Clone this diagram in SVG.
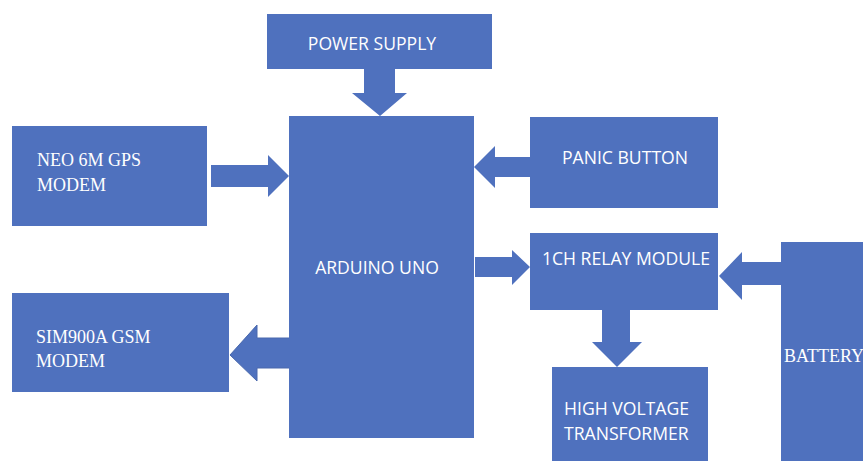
<svg xmlns="http://www.w3.org/2000/svg" width="863" height="461" viewBox="0 0 863 461">
<style>
.box{fill:#4f71be;}
.arr{fill:#4f71be;}
.s{font-family:"Open Sans","Liberation Sans",sans-serif;font-size:17.6px;fill:#ffffff;}
.r{font-family:"Liberation Serif","Times New Roman",serif;font-size:18px;fill:#ffffff;}
</style>
<rect width="863" height="461" fill="#ffffff"/>
<g id="connectors">
<polygon class="arr" points="364,69 395,69 395,93 407,93 380,116 352,93 364,93"/>
<polygon class="arr" points="211,165 268,165 268,155 289,176 268,197 268,187 211,187"/>
<polygon class="arr" points="530,157 495,157 495,146 474,167 495,188 495,177 530,177"/>
<polygon class="arr" points="475,257 512,257 512,250 530,267 512,285 512,277 475,277"/>
<polygon class="arr" points="781,262 742,262 742,252 719,276 742,300 742,285 781,285"/>
<polygon class="arr" points="602,300 630,300 630,342 642,342 617,367 592,342 602,342"/>
<polygon class="arr" points="305,338 257,338 257,325 230,355 257,381 257,368 305,368" stroke="#4a69ad" stroke-width="1"/>
</g>
<g id="power-supply"><rect class="box" x="267" y="14" width="225" height="55"/><text class="s" x="372" y="50" text-anchor="middle">POWER SUPPLY</text></g>
<g id="arduino-uno"><rect class="box" x="289" y="116" width="185" height="322"/><text class="s" x="377" y="274" text-anchor="middle">ARDUINO UNO</text></g>
<g id="neo-gps"><rect class="box" x="12" y="126" width="195" height="100"/><text class="r" x="37" y="166">NEO 6M GPS</text><text class="r" x="37" y="191">MODEM</text></g>
<g id="panic-button"><rect class="box" x="530" y="117" width="188" height="91"/><text class="s" x="625" y="164" text-anchor="middle">PANIC BUTTON</text></g>
<g id="relay-module"><rect class="box" x="530" y="233" width="188" height="77"/><text class="s" x="626" y="265" text-anchor="middle">1CH RELAY MODULE</text></g>
<g id="battery"><rect class="box" x="781" y="242" width="90" height="230"/><text class="r" x="784" y="362" font-size="16px">BATTERY</text></g>
<g id="hv-transformer"><rect class="box" x="552" y="367" width="156" height="100"/><text class="s" x="564" y="415">HIGH VOLTAGE</text><text class="s" x="564" y="440">TRANSFORMER</text></g>
<g id="sim-gsm"><rect class="box" x="12" y="293" width="217" height="99"/><text class="r" x="36" y="343">SIM900A GSM</text><text class="r" x="36" y="367">MODEM</text></g>
</svg>
